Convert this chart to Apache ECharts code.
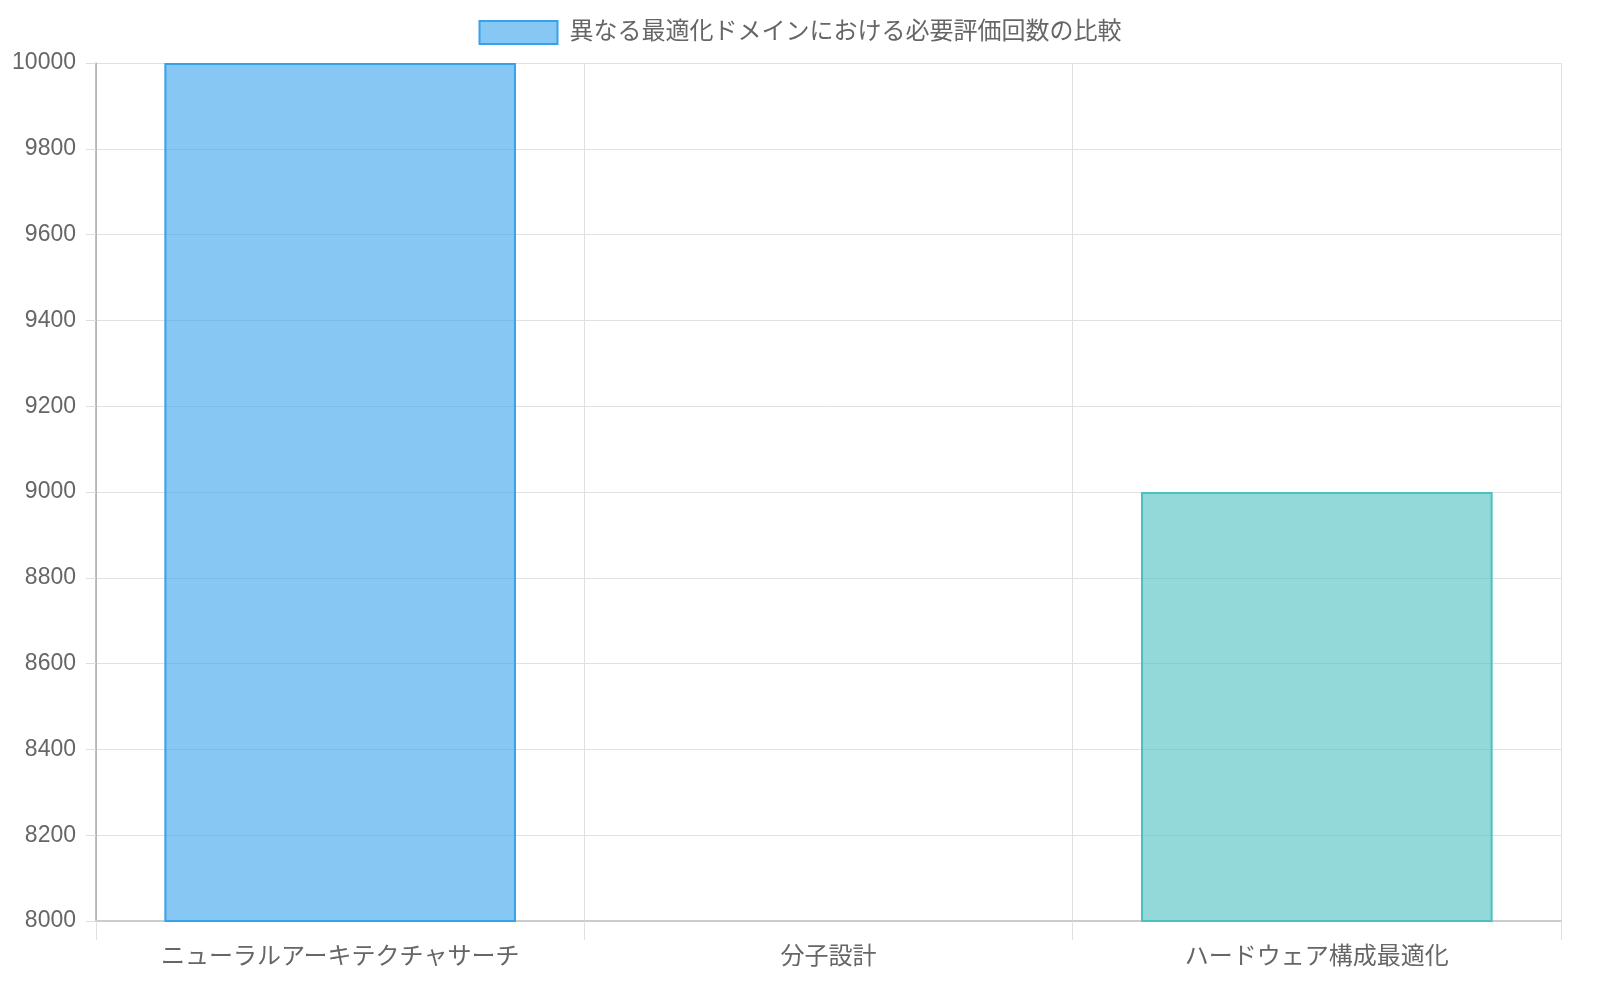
<!DOCTYPE html>
<html><head><meta charset="utf-8">
<script src="https://cdn.jsdelivr.net/npm/echarts@6/dist/echarts.min.js"></script>
<style>html,body{margin:0;padding:0;background:#fff}#c{width:1600px;height:1000px}</style>
</head><body><div id="c"></div>
<script>
const categories = ['ニューラルアーキテクチャサーチ', '分子設計', 'ハードウェア構成最適化'];
const values = [10000, 5000, 9000];
const yTicks = { min: 8000, max: 10000, interval: 200 };
const seriesName = '異なる最適化ドメインにおける必要評価回数の比較';
const fills = ['rgba(54,162,235,0.6)', 'rgba(255,99,132,0.6)', 'rgba(75,192,192,0.6)'];
const borders = ['#36A2EB', '#FF6384', '#4BC0C0'];

const FONT = '"Liberation Sans", "Noto Sans CJK JP", sans-serif';
const chart = echarts.init(document.getElementById('c'));
chart.setOption({
  animation: false,
  textStyle: { fontFamily: FONT },
  legend: {
    top: 15, left: 'center',
    icon: 'rect',
    itemWidth: 78, itemHeight: 23, itemGap: 10,
    textStyle: { fontSize: 24, color: '#666', fontFamily: FONT, padding: [0, 0, 0, 7] },
    data: [seriesName]
  },
  grid: { left: 96, right: 39, top: 63, bottom: 79, containLabel: false },
  xAxis: {
    type: 'category', data: categories,
    axisLine: { lineStyle: { color: '#ccc', width: 2 } },
    axisTick: { show: true, length: 19, lineStyle: { color: '#e0e0e0' } },
    splitLine: { show: true, lineStyle: { color: '#e0e0e0' } },
    axisLabel: { fontSize: 24, color: '#666', margin: 24, fontFamily: FONT }
  },
  yAxis: {
    type: 'value', min: yTicks.min, max: yTicks.max, interval: yTicks.interval,
    axisLine: { show: true, lineStyle: { color: '#aaa', width: 1.5 } },
    axisTick: { show: true, length: 10, lineStyle: { color: '#ddd' } },
    splitLine: { show: true, lineStyle: { color: '#e0e0e0' } },
    axisLabel: { fontSize: 23, color: '#666', margin: 20, fontFamily: FONT, formatter: v => String(v) }
  },
  series: [{
    name: seriesName, type: 'bar', barWidth: '72%', clip: true,
    itemStyle: { color: fills[0], borderColor: borders[0], borderWidth: 2 },
    data: values.map((v, i) => ({ value: v, itemStyle: { color: fills[i], borderColor: borders[i], borderWidth: 2 } }))
  }]
});
</script></body></html>
